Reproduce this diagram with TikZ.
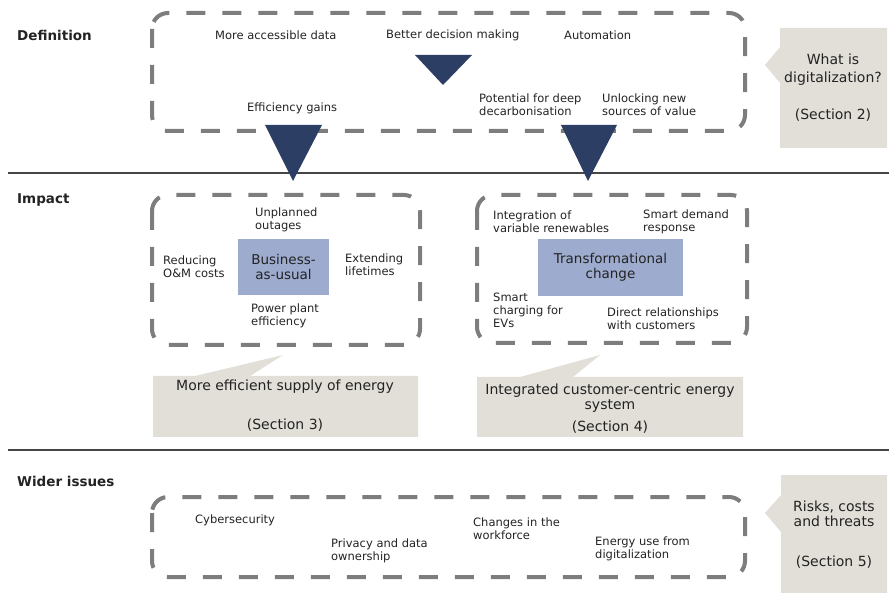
\documentclass[tikz,border=0pt]{standalone}
\usepackage{fontspec}
\setmainfont{DejaVu Sans}
\usepackage{tikz}
\usetikzlibrary{calc}
\definecolor{dashgray}{RGB}{125,125,125}
\definecolor{calloutgray}{RGB}{225,223,216}
\definecolor{trinavy}{RGB}{45,62,100}
\definecolor{boxblue}{RGB}{157,171,207}
\definecolor{rulegray}{RGB}{70,70,70}
\definecolor{textgray}{RGB}{35,35,35}

\begin{document}
\begin{tikzpicture}[x=1pt,y=-1pt,
  lbl/.style={font=\fontsize{11.5}{13}\selectfont,align=left,anchor=west,inner sep=0pt,text=textgray},
  head/.style={font=\fontsize{13.5}{15}\selectfont\bfseries,anchor=west,inner sep=0pt,text=textgray},
  dashbox/.style={draw=dashgray,line width=4pt,dash pattern=on 19pt off 17pt,rounded corners=16pt},
  keybox/.style={fill=boxblue,font=\fontsize{13.5}{15.5}\selectfont,align=center,text=textgray,inner sep=0pt},
  callout/.style={font=\fontsize{14}{15.5}\selectfont,align=center,inner sep=0pt,text=textgray}]
\useasboundingbox (0,0) rectangle (889,593);
% section rules and headings
\draw[rulegray,line width=1.6pt] (8,173) -- (889,173);
\draw[rulegray,line width=1.6pt] (8,450) -- (889,450);
\node[head] (defhead) at (17,35) {Definition};
\node[head] (imphead) at (17,200) {Impact};
\node[head] (widehead) at (17,481) {Wider issues};
% definition
\draw[dashbox] (152,13) rectangle (745,131);
\node[lbl] (access) at (215,35) {More accessible data};
\node[lbl] (decide) at (386,35) {Better decision making};
\node[lbl] (auto) at (564,35) {Automation};
\node[lbl] (effgain) at (247,108) {Efficiency gains};
\node[lbl] (decarb) at (479,104.5) {Potential for deep\\decarbonisation};
\node[lbl] (unlock) at (602,104.5) {Unlocking new\\sources of value};
\fill[trinavy] (415,55) -- (472,55) -- (443,85) -- cycle;
\fill[calloutgray] (765,65) -- (780,47) -- (780,28) -- (887,28) -- (887,148) -- (780,148) -- (780,83) -- cycle;
\node[callout] (sec2) at (833,88) {What is\\[2.5pt]digitalization?\\[21.5pt](Section 2)};
% impact
\draw[dashbox] (152,195) rectangle (420,345);
\draw[dashbox] (477,195) rectangle (747,343);
\fill[trinavy] (265,125) -- (322,125) -- (293,181) -- cycle;
\fill[trinavy] (561,125) -- (617,125) -- (588,181) -- cycle;
\node[keybox,minimum width=91pt,minimum height=56pt] (bau) at (283.5,267) {Business-\\as-usual};
\node[keybox,minimum width=145pt,minimum height=57pt] (trans) at (610.5,267.5) {Transformational\\change};
\node[lbl] (outage) at (255,220) {Unplanned\\outages};
\node[lbl] (omcost) at (163,267) {Reducing\\O\&M costs};
\node[lbl] (lifetime) at (345,265) {Extending\\lifetimes};
\node[lbl] (plant) at (251,316) {Power plant\\efficiency};
\node[lbl] (renew) at (493,222) {Integration of\\variable renewables};
\node[lbl] (demand) at (643,222) {Smart demand\\response};
\node[lbl] (evs) at (493,310.5) {Smart\\charging for\\EVs};
\node[lbl] (direct) at (607,319) {Direct relationships\\with customers};
\fill[calloutgray] (283,355) -- (250,376) -- (418,376) -- (418,437) -- (153,437) -- (153,376) -- (195,376) -- cycle;
\node[callout] (sec3) at (285,405.5) {More efficient supply of energy\\[23.5pt](Section 3)};
\fill[calloutgray] (600,355) -- (573,377) -- (743,377) -- (743,437) -- (477,437) -- (477,377) -- (520,377) -- cycle;
\node[callout] (sec4) at (610,408.5) {Integrated customer-centric energy\\system\\[6.5pt](Section 4)};
% wider issues
\draw[dashbox] (152,497) rectangle (745,577);
\node[lbl] (cyber) at (195,520) {Cybersecurity};
\node[lbl] (privacy) at (331,551) {Privacy and data\\ownership};
\node[lbl] (workforce) at (473,529) {Changes in the\\workforce};
\node[lbl] (energyuse) at (595,549) {Energy use from\\digitalization};
\fill[calloutgray] (765,513) -- (781,495) -- (781,475) -- (887,475) -- (887,593) -- (781,593) -- (781,532) -- cycle;
\node[callout] (sec5) at (834,534.5) {Risks, costs\\and threats\\[24.5pt](Section 5)};
\end{tikzpicture}
\end{document}
